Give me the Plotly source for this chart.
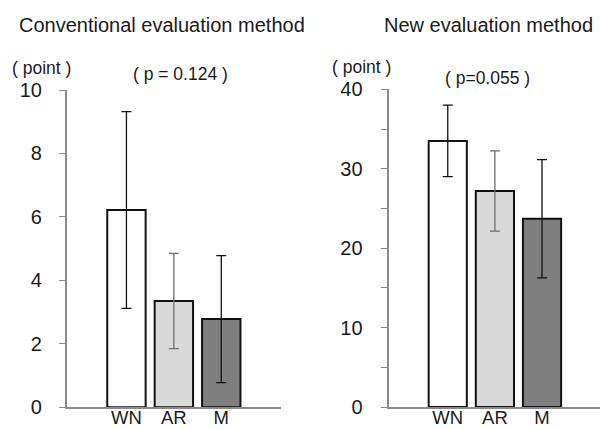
import plotly.graph_objects as go

categories = ["WN", "AR", "M"]
conv_means = [6.22, 3.35, 2.78]
conv_sd = [3.1, 1.5, 2.0]
new_means = [33.5, 27.2, 23.7]
new_sd = [4.5, 5.05, 7.45]

bar_fills = ["#ffffff", "#d9d9d9", "#7f7f7f"]
err_colors = ["#111111", "#6e6e6e", "#111111"]

conv_ticks = [0, 2, 4, 6, 8, 10]
conv_ticktext = ["0", "2", "4", "6", "8", "10"]
new_ticks = [0, 5, 10, 15, 20, 25, 30, 35, 40]
new_ticktext = ["0", "", "10", "", "20", "", "30", "", "40"]

W, H = 600, 430
FONT = "Liberation Sans, Arial, sans-serif"
TXT = "#1a1a1a"

fig = go.Figure()

for panel, (means, sds, xa, ya) in enumerate([(conv_means, conv_sd, "x", "y"),
                                              (new_means, new_sd, "x2", "y2")]):
    for i, cat in enumerate(categories):
        fig.add_trace(go.Bar(
            x=[cat], y=[means[i]], xaxis=xa, yaxis=ya,
            width=0.81,
            marker=dict(color=bar_fills[i], line=dict(color="#111111", width=2)),
            error_y=dict(type="data", array=[sds[i]], visible=True,
                         color=err_colors[i], thickness=1.3, width=5),
            showlegend=False, hoverinfo="skip",
        ))

axis_common = dict(showgrid=False, zeroline=False, showline=True,
                   linecolor="#8a8a8a", linewidth=1.5, automargin=False)

fig.update_layout(
    width=W, height=H,
    margin=dict(l=0, r=0, t=0, b=0),
    plot_bgcolor="white", paper_bgcolor="white",
    barmode="overlay",
    font=dict(family=FONT, color=TXT),
    xaxis=dict(domain=[66.7 / W, 281 / W], type="category",
               categoryorder="array", categoryarray=categories,
               range=[-1.26, 3.26], ticks="", anchor="y",
               ticklabelstandoff=-7,
               tickfont=dict(size=18.5, color=TXT), **axis_common),
    yaxis=dict(domain=[1 - 407.3 / H, 1 - 90 / H], range=[0, 10],
               tickmode="array", tickvals=conv_ticks, ticktext=conv_ticktext,
               ticks="outside", ticklen=6, tickcolor="#8a8a8a", tickwidth=1.3,
               ticklabelstandoff=13, anchor="x",
               tickfont=dict(size=20, color=TXT), **axis_common),
    xaxis2=dict(domain=[389.3 / W, 1.0], type="category",
                categoryorder="array", categoryarray=categories,
                range=[-1.24, 3.23], ticks="", anchor="y2",
                ticklabelstandoff=-7,
                tickfont=dict(size=18.5, color=TXT), **axis_common),
    yaxis2=dict(domain=[1 - 407 / H, 1 - 89.3 / H], range=[0, 40],
                tickmode="array", tickvals=new_ticks, ticktext=new_ticktext,
                ticks="outside", ticklen=7, tickcolor="#8a8a8a", tickwidth=1.3,
                ticklabelstandoff=14, anchor="x2",
                tickfont=dict(size=20, color=TXT), **axis_common),
)

def ann(text, px, py, size):
    fig.add_annotation(text=text, xref="paper", yref="paper",
                       x=px / W, y=1 - py / H, xanchor="center", yanchor="middle",
                       showarrow=False, font=dict(size=size, color=TXT, family=FONT))

ann("Conventional evaluation method", 161.5, 25, 20)
ann("New evaluation method", 488.5, 25, 20)
ann("( point )", 41, 68, 17.5)
ann("( p = 0.124 )", 180, 74, 17.5)
ann("( point )", 361.7, 66.5, 17.5)
ann("( p=0.055 )", 487.8, 78, 17.5)

fig.write_html("out.html",
               config={"displayModeBar": False},
               post_script="document.body.style.margin='0';document.body.style.overflow='hidden';")
